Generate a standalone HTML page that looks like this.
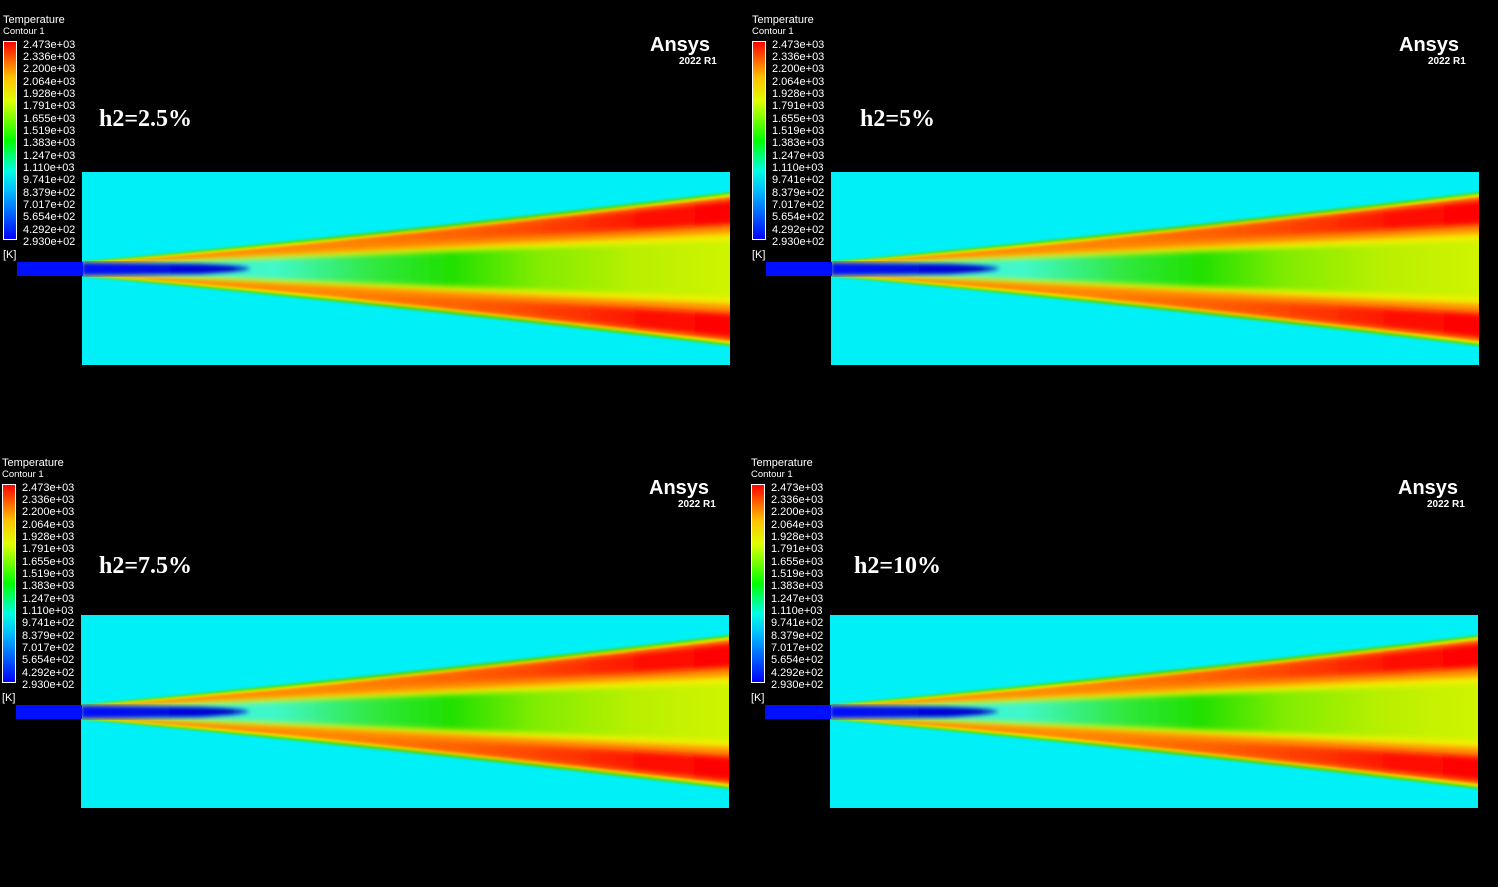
<!DOCTYPE html>
<html><head><meta charset="utf-8"><style>
html,body{margin:0;padding:0;background:#000;}
svg{display:block;}
.t{font-family:"Liberation Sans",sans-serif;fill:#fff;font-size:11px;}
.h{font-family:"Liberation Serif",serif;fill:#fff;font-size:24px;font-weight:bold;}
</style></head><body>
<svg width="1498" height="887" viewBox="0 0 1498 887" xmlns="http://www.w3.org/2000/svg">
<defs>
<linearGradient id="cb" x1="0" y1="1" x2="0" y2="0">
<stop offset="0" stop-color="#0000ff"/><stop offset="0.25" stop-color="#00c0ff"/>
<stop offset="0.35" stop-color="#00ffe0"/><stop offset="0.5" stop-color="#00ff00"/>
<stop offset="0.7" stop-color="#e0ff00"/><stop offset="0.82" stop-color="#ffc000"/>
<stop offset="1" stop-color="#ff0000"/></linearGradient>
<linearGradient id="core" gradientUnits="userSpaceOnUse" x1="82" y1="0" x2="730" y2="0">
<stop offset="0" stop-color="#30f0f0"/><stop offset="0.3" stop-color="#40f8c8"/>
<stop offset="0.45" stop-color="#30e840"/><stop offset="0.57" stop-color="#20e000"/>
<stop offset="0.7" stop-color="#80ec00"/><stop offset="0.85" stop-color="#b8f000"/>
<stop offset="1" stop-color="#d0f400"/></linearGradient>
<linearGradient id="red" gradientUnits="userSpaceOnUse" x1="300" y1="0" x2="730" y2="0">
<stop offset="0" stop-color="#ff3000" stop-opacity="0"/><stop offset="0.45" stop-color="#ff3000" stop-opacity="0.6"/>
<stop offset="0.8" stop-color="#ff1000" stop-opacity="1"/><stop offset="1" stop-color="#ff0000"/></linearGradient>
<linearGradient id="bl" gradientUnits="userSpaceOnUse" x1="82" y1="0" x2="330" y2="0">
<stop offset="0" stop-color="#0010ff"/><stop offset="0.6" stop-color="#0000c8"/>
<stop offset="0.85" stop-color="#0070ff" stop-opacity="0.6"/><stop offset="1" stop-color="#00f0ff" stop-opacity="0"/></linearGradient>
<filter id="b1"><feGaussianBlur stdDeviation="1.2"/></filter>
<filter id="b3"><feGaussianBlur stdDeviation="3"/></filter>
<filter id="b2"><feGaussianBlur stdDeviation="2"/></filter>
<clipPath id="dom"><rect x="82" y="172" width="648" height="193"/></clipPath>
<g id="panel">
<text class="t" x="3" y="23">Temperature</text>
<text class="t" x="3" y="34" style="font-size:9.5px">Contour 1</text>
<rect x="3.5" y="41.5" width="13" height="198" fill="url(#cb)" stroke="#fff" stroke-width="1"/>
<g class="t">
<text x="23" y="48">2.473e+03</text><text x="23" y="60">2.336e+03</text><text x="23" y="72">2.200e+03</text>
<text x="23" y="85">2.064e+03</text><text x="23" y="97">1.928e+03</text><text x="23" y="109">1.791e+03</text>
<text x="23" y="122">1.655e+03</text><text x="23" y="134">1.519e+03</text><text x="23" y="146">1.383e+03</text>
<text x="23" y="159">1.247e+03</text><text x="23" y="171">1.110e+03</text><text x="23" y="183">9.741e+02</text>
<text x="23" y="196">8.379e+02</text><text x="23" y="208">7.017e+02</text><text x="23" y="220">5.654e+02</text>
<text x="23" y="233">4.292e+02</text><text x="23" y="245">2.930e+02</text>
<text x="3" y="258">[K]</text></g>
<text x="650" y="51" style="font-family:'Liberation Sans',sans-serif;font-weight:bold;font-size:20px;fill:#fff">Ansys</text>
<text x="679" y="64" style="font-family:'Liberation Sans',sans-serif;font-weight:bold;font-size:10px;fill:#fff">2022 R1</text>
<rect x="82" y="172" width="648" height="193" fill="#00f0f8"/>
<g clip-path="url(#dom)">
<path d="M82,262 Q406,231 740,191 L740,347 Q406,307 82,276 Z" fill="#40e000" filter="url(#b1)"/>
<path d="M82,263 Q406,234.5 740,193 L740,345 Q406,303.5 82,275 Z" fill="#f0f000" filter="url(#b1)"/>
<path d="M82,264 Q406,237.5 740,196 L740,342 Q406,300.5 82,274 Z" fill="#ff8c00" filter="url(#b1)"/>
<path d="M300,243 Q520,222 740,199 L740,224 Q520,237 300,247 Z" fill="url(#red)" filter="url(#b3)"/>
<path d="M300,295 Q520,316 740,339 L740,314 Q520,301 300,291 Z" fill="url(#red)" filter="url(#b3)"/>
<path d="M82,265 Q406,248.5 740,233 L740,305 Q406,289.5 82,273 Z" fill="#f4f000" filter="url(#b3)"/>
<path d="M82,266 Q406,253 740,240 L740,298 Q406,285 82,272 Z" fill="url(#core)" filter="url(#b3)"/>
<path d="M82,262.5 L200,264 Q300,268 200,274 L82,275.5 Z" fill="url(#bl)" filter="url(#b2)"/>
</g>
<rect x="17" y="262" width="66" height="14" fill="#0010ff"/>
</g>
</defs>
<use href="#panel"/>
<use href="#panel" transform="translate(749,0)"/>
<use href="#panel" transform="translate(-1,443)"/>
<use href="#panel" transform="translate(748,443)"/>
<text class="h" x="99" y="126">h2=2.5%</text>
<text class="h" x="860" y="126">h2=5%</text>
<text class="h" x="99" y="573">h2=7.5%</text>
<text class="h" x="854" y="573">h2=10%</text>
</svg>
</body></html>
